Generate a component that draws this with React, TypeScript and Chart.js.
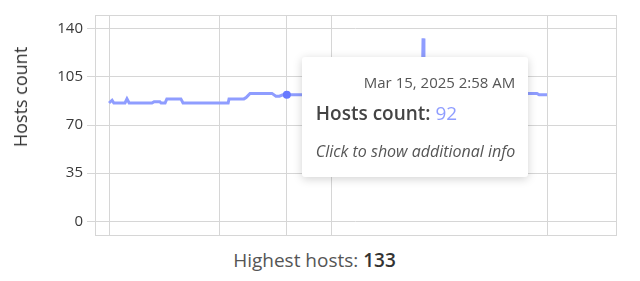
import React, { useEffect, useRef } from "react";
import { Chart, registerables } from "chart.js";

Chart.register(...registerables);

// Hours since the first sample
const timeOffsets = [
  0, 0.7, 1.1, 3.65, 4.1, 4.6, 9.8, 10.3, 11.6, 11.9, 12.8, 13.2, 16.4, 16.9,
  27.2, 27.4, 30.8, 31.3, 32.2, 37.2, 38.1, 38.9, 39.7, 40.6, 45, 50, 55, 60,
  65, 71.5, 71.7, 71.9, 76, 82, 88, 93, 95.9, 97.7, 98.2, 100,
];
const hostCounts = [
  86, 88, 86, 86, 89, 86, 86, 87, 87, 86, 86, 89, 89, 86,
  86, 89, 89, 90, 93, 93, 91, 91, 92, 92, 92, 93, 93, 93,
  93, 93, 133, 93, 94, 94, 93, 93, 93, 93, 92, 92,
];
const pointLabels = timeOffsets.map((_, i) => (i === 23 ? "Mar 15, 2025 2:58 AM" : ""));
const gridTicks = [0, 25.3, 40.6, 50.7, 100];
const yTicks = [0, 35, 70, 105, 140];
const hoverIndex = 23;
const highestHosts = 133;

const LINE = "#8f9dff";
const GRID = "#d6d6d6";
const FONT = "'Open Sans', sans-serif";

export default function App() {
  const canvasRef = useRef<HTMLCanvasElement | null>(null);
  const tipRef = useRef<HTMLDivElement | null>(null);

  useEffect(() => {
    const frame = {
      id: "frame",
      afterDraw(chart: any) {
        const { ctx, chartArea: a } = chart;
        ctx.save();
        ctx.strokeStyle = GRID;
        ctx.lineWidth = 1;
        ctx.strokeRect(Math.round(a.left) + 0.5, Math.round(a.top) + 0.5, Math.round(a.right - a.left), Math.round(a.bottom - a.top));
        ctx.restore();
      },
    };
    const chart = new Chart(canvasRef.current!, {
      type: "line",
      data: {
        datasets: [
          {
            label: "Hosts count",
            data: timeOffsets.map((t, i) => ({ x: t, y: hostCounts[i] })),
            borderColor: LINE,
            backgroundColor: LINE,
            borderWidth: 3,
            pointRadius: 0,
            pointHoverRadius: 4,
            pointHoverBorderWidth: 0,
            pointHitRadius: 0,
            tension: 0,
          },
        ],
      },
      options: {
        animation: false,
        responsive: true,
        maintainAspectRatio: false,
        layout: { padding: { top: 7, right: 16, bottom: 9, left: 0 } },
        plugins: {
          legend: { display: false },
          tooltip: {
            enabled: false,
            external: (context: any) => {
              const { tooltip } = context;
              const el = tipRef.current;
              if (!el) return;
              if (tooltip.opacity === 0) {
                el.style.opacity = "0";
                return;
              }
              el.style.opacity = "1";
              el.style.left = tooltip.caretX + 15 + "px";
              el.style.top = tooltip.caretY - 38 + "px";
            },
          },
        },
        scales: {
          x: {
            type: "linear",
            min: -3.2,
            max: 115.75,
            afterBuildTicks: (s: any) => {
              s.ticks = gridTicks.map((v) => ({ value: v }));
            },
            ticks: { display: false },
            grid: { color: GRID, drawTicks: false },
            border: { display: false },
          },
          y: {
            min: -10,
            max: 150,
            afterBuildTicks: (s: any) => {
              s.ticks = yTicks.map((v) => ({ value: v }));
            },
            afterFit: (s: any) => {
              s.width = 87;
              s.paddingTop = 0;
              s.paddingBottom = 0;
            },
            ticks: { color: "#3a3a3a", font: { family: FONT, size: 15 }, padding: 4 },
            grid: { color: GRID, tickLength: 8 },
            border: { display: false },
          },
        },
      },
      plugins: [frame],
    });
    const meta = chart.getDatasetMeta(0);
    const pt = meta.data[hoverIndex] as any;
    chart.setActiveElements([{ datasetIndex: 0, index: hoverIndex }]);
    chart.tooltip!.setActiveElements([{ datasetIndex: 0, index: hoverIndex }], { x: pt.x, y: pt.y });
    chart.update();
    return () => chart.destroy();
  }, []);

  return (
    <div style={{ fontFamily: FONT }}>
      <div style={{ position: "relative", height: 236 }}>
        <canvas ref={canvasRef} />
        <div
          style={{
            position: "absolute",
            left: 12,
            top: 89,
            transform: "translate(-50%, -50%) rotate(-90deg)",
            fontSize: 18,
            lineHeight: "24px",
            color: "#333",
            whiteSpace: "nowrap",
          }}
        >
          Hosts count
        </div>
        <div
          ref={tipRef}
          style={{
            position: "absolute",
            background: "#fff",
            borderRadius: 3,
            boxShadow: "0 2px 10px rgba(0,0,0,0.18)",
            padding: "15px 13px 16px 14px",
            pointerEvents: "none",
            whiteSpace: "nowrap",
            opacity: 0,
          }}
        >
          <div style={{ textAlign: "right", fontSize: 15, color: "#555", lineHeight: "20px" }}>{pointLabels[hoverIndex]}</div>
          <div style={{ fontSize: 19, fontWeight: 600, color: "#444", lineHeight: "24px", marginTop: 9 }}>
            Hosts count: <span style={{ color: LINE, fontWeight: 400 }}>{hostCounts[hoverIndex]}</span>
          </div>
          <div style={{ fontSize: 16, fontStyle: "italic", color: "#555", lineHeight: "20px", marginTop: 16 }}>
            Click to show additional info
          </div>
        </div>
      </div>
      <div style={{ textAlign: "center", fontSize: 19, color: "#555", lineHeight: "24px", marginTop: 4, paddingRight: 11 }}>
        Highest hosts: <b style={{ color: "#333", fontWeight: 600 }}>{highestHosts}</b>
      </div>
    </div>
  );
}
